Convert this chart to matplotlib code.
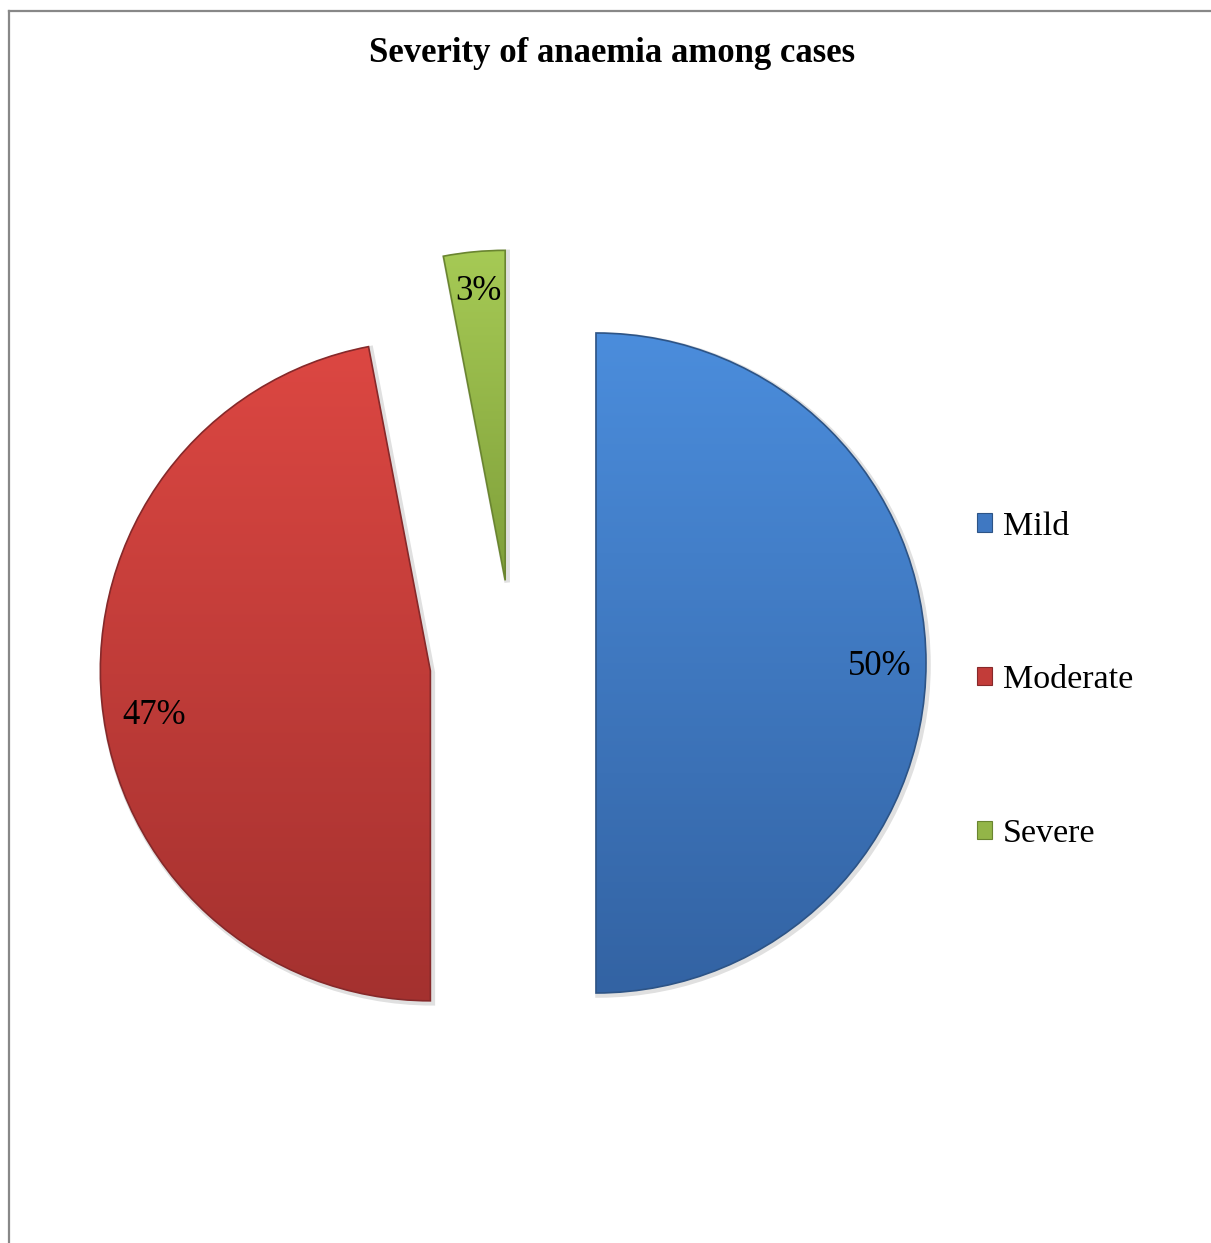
import numpy as np
import matplotlib
matplotlib.use("Agg")
import matplotlib.pyplot as plt
from matplotlib.colors import LinearSegmentedColormap
from matplotlib.patches import Patch, Wedge
from matplotlib.lines import Line2D

categories = ["Mild", "Moderate", "Severe"]
values = [50, 47, 3]
top_colors = ["#4b8ddc", "#dc4742", "#a6ca55"]
bottom_colors = ["#3363a3", "#a4312f", "#7f9f3a"]
edge_colors = ["#2d5486", "#86292a", "#6a8530"]
mid_colors = ["#3f78c2", "#c23c39", "#93b548"]

plt.rcParams['font.family'] = ['Liberation Serif', 'DejaVu Serif']

W, H = 1211, 1243
fig = plt.figure(figsize=(W / 100, H / 100), dpi=100)
ax = fig.add_axes([0, 0, 1, 1])
ax.set_axis_off()

radius = 330
wedges, texts, autotexts = ax.pie(
    values, center=(513, H - 663), radius=radius, explode=[83] * 3,
    startangle=90, counterclock=False, autopct=lambda p: f"{p:.0f}%",
    pctdistance=0.86, textprops=dict(fontsize=25, color="black"),
    wedgeprops=dict(linewidth=0), frame=False)

grad = np.linspace(0, 1, 256).reshape(-1, 1)
for w, top, bot, edge in zip(wedges, top_colors, bottom_colors, edge_colors):
    w.set_facecolor("none")
    bb = w.get_path().get_extents()
    cmap = LinearSegmentedColormap.from_list("g", [bot, top])
    im = ax.imshow(grad, extent=[bb.x0, bb.x1, bb.y0, bb.y1], origin="lower",
                   cmap=cmap, aspect="auto", zorder=1, interpolation="bilinear")
    im.set_clip_path(w)
    # soft shadow and edge
    sh = Wedge(w.center, w.r, w.theta1, w.theta2, facecolor="none",
               edgecolor="#000000", alpha=0.12, linewidth=4, zorder=0.9)
    sh.set_transform(ax.transData + matplotlib.transforms.Affine2D().translate(2, -2))
    ax.add_patch(sh)
    ed = Wedge(w.center, w.r, w.theta1, w.theta2, facecolor="none",
               edgecolor=edge, linewidth=1.2, zorder=2)
    ax.add_patch(ed)

for t in autotexts:
    t.set_zorder(5)
# small nudges so labels sit where the original puts them
nudges = [(0, -3), (6, -18), (0, 6)]
for t, (dx, dy) in zip(autotexts, nudges):
    x, y = t.get_position()
    t.set_position((x + dx, y + dy))

ax.set_xlim(0, W)
ax.set_ylim(0, H)

handles = [Patch(facecolor=c, edgecolor=e, linewidth=0.8)
           for c, e in zip(mid_colors, edge_colors)]
ax.legend(handles, categories, loc="center left", frameon=False,
          bbox_to_anchor=(977 / W, 1 - 680 / H), bbox_transform=fig.transFigure,
          fontsize=24.5, borderpad=0, borderaxespad=0, handlelength=0.45,
          handleheight=0.45, handletextpad=0.3, labelspacing=3.62)

fig.text(612 / W, 1 - 53 / H, "Severity of anaemia among cases",
         ha="center", va="center", fontsize=25, fontweight="bold")

fig.add_artist(Line2D([8.5 / W, 8.5 / W], [0, 1 - 10.5 / H], color="#888888",
                      linewidth=1.6, transform=fig.transFigure))
fig.add_artist(Line2D([8.5 / W, 1], [1 - 10.5 / H, 1 - 10.5 / H], color="#888888",
                      linewidth=1.6, transform=fig.transFigure))

fig.savefig("out.png", dpi=100)
